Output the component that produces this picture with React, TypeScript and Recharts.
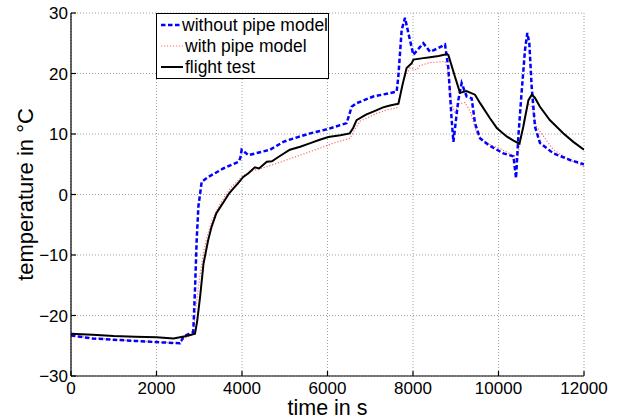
import React from 'react';
import { LineChart, Line, XAxis, YAxis, CartesianGrid, Legend } from 'recharts';

const xTicks = [0, 2000, 4000, 6000, 8000, 10000, 12000];
const yTicks = [-30, -20, -10, 0, 10, 20, 30];

const seriesNames = ['without pipe model', 'with pipe model', 'flight test'];

const withoutT = [0, 500, 1000, 1500, 2000, 2550, 2630, 2860, 2900, 2940, 2980, 3057, 3213, 3563, 3914, 3960, 3992, 4031, 4148, 4655, 4967, 5084, 5591, 6000, 6449, 6565, 6682, 7072, 7618, 7657, 7735, 7813, 7891, 8008, 8242, 8398, 8593, 8749, 8827, 8905, 8945, 9060, 9138, 9255, 9372, 9450, 9567, 9762, 10113, 10350, 10410, 10464, 10542, 10620, 10674, 10721, 10776, 10854, 10971, 11283, 11673, 12000];
const withoutV = [-23.3, -23.8, -24.0, -24.2, -24.4, -24.6, -23.5, -22.7, -15.8, -7.5, -2.0, 2.1, 2.9, 4.3, 5.4, 6.0, 7.4, 7.2, 6.5, 7.4, 8.7, 9.0, 10.1, 10.8, 11.8, 14.5, 15.1, 16.2, 17.0, 19.5, 27.2, 29.2, 26.7, 23.1, 25.0, 23.6, 24.2, 24.8, 20.9, 12.3, 8.7, 15.6, 18.4, 16.2, 15.9, 11.8, 9.3, 8.2, 6.8, 6.3, 2.7, 9.6, 17.0, 23.9, 26.7, 25.0, 17.8, 11.2, 8.5, 6.8, 5.7, 5.0];

const withT = [0, 500, 1000, 1500, 2000, 2550, 2650, 2820, 2870, 2950, 3000, 3100, 3200, 3300, 3450, 3600, 3760, 3900, 4000, 4200, 4580, 5000, 5360, 5800, 6140, 6530, 6640, 6760, 7150, 7400, 7620, 7700, 7810, 7930, 8090, 8160, 8400, 8750, 8800, 8905, 8980, 9060, 9220, 9350, 9490, 9720, 10035, 10380, 10425, 10540, 10600, 10700, 10780, 10890, 11283, 11673, 12000];
const withV = [-23.3, -23.7, -24.0, -24.2, -24.4, -24.6, -23.8, -23.3, -22.0, -17.0, -14.2, -9.5, -6.5, -4.3, -2.0, -0.3, 1.3, 2.2, 3.0, 3.8, 4.6, 5.6, 6.5, 7.6, 8.5, 9.3, 10.8, 12.1, 13.4, 14.0, 14.3, 16.5, 19.5, 20.9, 20.6, 21.3, 21.8, 22.0, 21.0, 15.1, 13.4, 15.0, 15.2, 13.5, 10.1, 8.5, 7.6, 6.3, 5.2, 10.0, 12.5, 15.0, 14.5, 11.2, 7.4, 5.7, 4.6];

const flightT = [0, 500, 1000, 1500, 2000, 2400, 2700, 2900, 2950, 3020, 3100, 3210, 3290, 3400, 3500, 3600, 3700, 3800, 3900, 4030, 4150, 4300, 4400, 4580, 4700, 4850, 5120, 5360, 5600, 5800, 6020, 6300, 6520, 6600, 6680, 6900, 7070, 7300, 7460, 7660, 7750, 7850, 7970, 8010, 8200, 8400, 8600, 8800, 8830, 8980, 9100, 9250, 9450, 9570, 9800, 9960, 10190, 10350, 10490, 10580, 10700, 10780, 10850, 10970, 11200, 11520, 11750, 12000];
const flightV = [-23.0, -23.2, -23.4, -23.5, -23.6, -23.8, -23.4, -23.0, -21.0, -16.9, -11.4, -7.5, -5.3, -3.1, -2.0, -0.9, 0.2, 1.0, 1.8, 2.9, 3.5, 4.5, 4.3, 5.4, 5.5, 6.2, 7.4, 7.9, 8.5, 9.0, 9.5, 9.8, 10.1, 11.0, 12.3, 13.2, 13.7, 14.4, 14.7, 15.0, 18.0, 20.9, 21.7, 22.3, 22.5, 22.7, 22.9, 23.2, 23.0, 19.5, 16.8, 17.1, 16.5, 15.1, 12.6, 11.0, 9.6, 8.9, 8.4, 11.2, 15.6, 16.5, 16.0, 14.5, 12.3, 10.1, 8.7, 7.4];

const toRows = (ts: number[], vs: number[]) => ts.map((t, i) => ({ t, v: vs[i] }));
const withoutData = toRows(withoutT, withoutV);
const withData = toRows(withT, withV);
const flightData = toRows(flightT, flightV);

const FONT = '"Liberation Sans", Arial, Helvetica, sans-serif';
const TICK_LEN = 5;
const X_MARGIN = 6;
const Y_MARGIN = 3;

const styles = [
  { stroke: '#0000ff', width: 2.5, dash: '4.5 2.5' },
  { stroke: '#ff6a6a', width: 1.2, dash: '1.2 1.8' },
  { stroke: '#000000', width: 2, dash: undefined as string | undefined },
];

const fmt = (v: number) => String(v).replace('-', '\u2212');

const BottomTick = (props: any) => {
  const { x, y, payload } = props;
  const axisY = y - X_MARGIN;
  return (
    <g>
      <line x1={x} y1={axisY} x2={x} y2={axisY - TICK_LEN} stroke="#000" strokeWidth={1.2} />
      <text x={x} y={y} dy="0.71em" textAnchor="middle" fill="#000" fontSize={17} fontFamily={FONT}>
        {fmt(payload.value)}
      </text>
    </g>
  );
};

const LeftTick = (props: any) => {
  const { x, y, payload } = props;
  const axisX = x + Y_MARGIN;
  return (
    <g>
      <line x1={axisX} y1={y} x2={axisX + TICK_LEN} y2={y} stroke="#000" strokeWidth={1.2} />
      <text x={x} y={y} dy="0.355em" textAnchor="end" fill="#000" fontSize={17} fontFamily={FONT}>
        {fmt(payload.value)}
      </text>
    </g>
  );
};

const TopTick = (props: any) => {
  const { x, y } = props;
  const axisY = y + X_MARGIN;
  return <line x1={x} y1={axisY} x2={x} y2={axisY + TICK_LEN} stroke="#000" strokeWidth={1.2} />;
};

const RightTick = (props: any) => {
  const { x, y } = props;
  const axisX = x - Y_MARGIN;
  return <line x1={axisX} y1={y} x2={axisX - TICK_LEN} y2={y} stroke="#000" strokeWidth={1.2} />;
};

const LegendBox = () => (
  <div
    style={{
      width: 171,
      height: 64,
      border: '1px solid #000',
      background: '#fff',
      fontFamily: FONT,
      fontSize: 17.5,
      color: '#000',
      boxSizing: 'content-box',
    }}
  >
    {seriesNames.map((n, i) => (
      <div key={n} style={{ display: 'flex', alignItems: 'center', height: 20.7, marginTop: i === 0 ? 1 : 0 }}>
        <svg width={24} height={10} style={{ marginLeft: 3, marginRight: 1 }}>
          <line x1={1} y1={5} x2={23} y2={5} stroke={styles[i].stroke} strokeWidth={styles[i].width} strokeDasharray={styles[i].dash} />
        </svg>
        <span style={{ lineHeight: '20px', whiteSpace: 'nowrap' }}>{n}</span>
      </div>
    ))}
  </div>
);

export default function App() {
  return (
    <div style={{ position: 'absolute', left: 0, top: 0, width: 628, height: 419, background: '#fff' }}>
      <LineChart width={628} height={419} data={flightData} margin={{ top: 13, right: 44, bottom: 0, left: 0 }}>
        <CartesianGrid stroke="#a0a0a0" strokeDasharray="1 2" strokeWidth={1} />
        <XAxis
          type="number"
          dataKey="t"
          domain={[0, 12000]}
          ticks={xTicks}
          allowDataOverflow
          height={43}
          tickSize={0}
          tickMargin={X_MARGIN}
          tickLine={false}
          axisLine={{ stroke: '#000', strokeWidth: 1.2 }}
          tick={<BottomTick />}
          interval={0}
          label={{ value: 'time in s', position: 'insideBottom', offset: 4, fill: '#000', fontSize: 21.5, fontFamily: FONT }}
        />
        <XAxis
          xAxisId="top"
          orientation="top"
          type="number"
          dataKey="t"
          domain={[0, 12000]}
          ticks={xTicks}
          allowDataOverflow
          height={0}
          tickSize={0}
          tickMargin={X_MARGIN}
          tickLine={false}
          tick={<TopTick />}
          axisLine={{ stroke: '#000', strokeWidth: 1.2 }}
          interval={0}
        />
        <YAxis
          type="number"
          domain={[-30, 30]}
          ticks={yTicks}
          allowDataOverflow
          width={71}
          tickSize={0}
          tickMargin={Y_MARGIN}
          tickLine={false}
          axisLine={{ stroke: '#000', strokeWidth: 1.2 }}
          tick={<LeftTick />}
          interval={0}
          label={{ value: 'temperature in \u00b0C', angle: -90, position: 'insideLeft', offset: 25, fill: '#000', fontSize: 22, fontFamily: FONT, style: { textAnchor: 'middle' } }}
        />
        <YAxis
          yAxisId="right"
          orientation="right"
          type="number"
          domain={[-30, 30]}
          ticks={yTicks}
          allowDataOverflow
          width={0}
          tickSize={0}
          tickMargin={Y_MARGIN}
          tickLine={false}
          tick={<RightTick />}
          axisLine={{ stroke: '#000', strokeWidth: 1.2 }}
          interval={0}
        />
        <Line
          data={withData}
          dataKey="v"
          name={seriesNames[1]}
          type="linear"
          stroke={styles[1].stroke}
          strokeWidth={styles[1].width}
          strokeDasharray={styles[1].dash}
          dot={false}
          activeDot={false}
          isAnimationActive={false}
        />
        <Line
          data={withoutData}
          dataKey="v"
          name={seriesNames[0]}
          type="linear"
          stroke={styles[0].stroke}
          strokeWidth={styles[0].width}
          strokeDasharray={styles[0].dash}
          dot={false}
          activeDot={false}
          isAnimationActive={false}
        />
        <Line
          dataKey="v"
          name={seriesNames[2]}
          type="linear"
          stroke={styles[2].stroke}
          strokeWidth={styles[2].width}
          dot={false}
          activeDot={false}
          isAnimationActive={false}
        />
        <Legend
          layout="vertical"
          align="center"
          verticalAlign="middle"
          content={() => <LegendBox />}
          wrapperStyle={{ left: 156, top: 13, width: 'auto', height: 'auto' }}
        />
      </LineChart>
    </div>
  );
}
